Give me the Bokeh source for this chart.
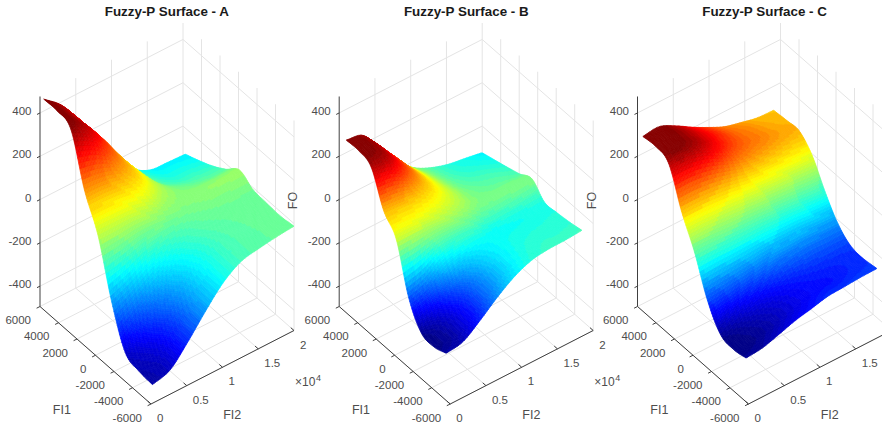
from math import pi
import numpy as np
from bokeh.embed import file_html
from bokeh.models import ColumnDataSource, Range1d
from bokeh.plotting import figure
from bokeh.resources import INLINE
from bokeh.core.properties import value

TITLES = ["Fuzzy-P Surface - A", "Fuzzy-P Surface - B", "Fuzzy-P Surface - C"]
FI1_TICKS = [6000, 4000, 2000, 0, -2000, -4000, -6000]
FI2_TICKS = [0, 5000, 10000, 15000, 20000]
FI2_LABELS = ["0", "0.5", "1", "1.5", "2"]
FO_TICKS = [400, 200, 0, -200, -400]

FI1_A = np.linspace(5760, -6000, 9)
FI2_A = np.linspace(200, 20000, 9)
FI1_B = np.linspace(5400, -5400, 9)
FI2_B = np.linspace(200, 19200, 9)
FI1_C = np.linspace(5580, -5580, 9)
FI2_C = np.linspace(200, 18500, 9)

# rows: FI2 ascending; columns: FI1 descending
FO_A = [
    [470, 470, 440, 215, 60, -190, -370, -400, -408],
    [400, 400, 385, 210, 60, -150, -300, -370, -382],
    [290, 295, 290, 190, 60, -100, -230, -290, -295],
    [160, 170, 175, 150, 45, -70, -155, -190, -195],
    [45, 55, 70, 65, 20, -45, -90, -105, -105],
    [-60, -40, -20, 10, 10, -20, -45, -52, -50],
    [-110, -85, -55, -15, 18, -10, -25, -30, -32],
    [-117, -90, -60, -25, 22, -8, -15, -20, -20],
    [-121, -95, -65, -25, 26, -10, -17, -21, -12],
]
FO_B = [
    [294, 296, 270, 120, 40, -180, -292, -305, -286],
    [275, 280, 255, 115, 40, -150, -255, -280, -272],
    [175, 195, 185, 105, 35, -90, -195, -225, -215],
    [75, 100, 105, 80, 25, -70, -140, -160, -150],
    [5, 25, 35, 35, 10, -65, -95, -105, -95],
    [-35, -25, -15, -5, -10, -72, -72, -68, -60],
    [-60, -50, -35, -20, -12, -68, -65, -55, -48],
    [-73, -60, -42, -25, -8, -66, -62, -55, -46],
    [-87, -70, -52, -33, -5, -62, -60, -53, -40],
]
FO_C = [
    [304, 310, 284, 115, -20, -190, -295, -312, -301],
    [310, 310, 285, 115, -20, -180, -280, -305, -293],
    [275, 285, 265, 110, -25, -170, -260, -290, -270],
    [230, 245, 225, 100, -28, -160, -245, -268, -245],
    [190, 205, 185, 85, -30, -150, -225, -245, -228],
    [155, 170, 160, 75, -35, -148, -212, -230, -210],
    [135, 150, 145, 70, -40, -145, -205, -225, -205],
    [118, 130, 130, 65, -50, -148, -203, -215, -200],
    [114, 120, 122, 60, -55, -150, -200, -207, -198],
]
COLOR_LIMITS = [(-440, 450), (-305, 296), (-312, 310)]
PANELS = [(FI1_A, FI2_A, FO_A), (FI1_B, FI2_B, FO_B), (FI1_C, FI2_C, FO_C)]

# view of the box on the page (orthographic projection)
OFFSETS = [0.0, 299.2, 597.5]
L = np.array([39.5, 306.0])
F = np.array([150.5, 403.5])
R = np.array([293.5, 330.0])
Z_LOW, Z_HIGH, Z_SCALE = -494.0, 476.0, 0.2165
INK = "#4d4d4d"
GRID = "#e4e4e4"
SANS = value("Liberation Sans")


def project(fi1, fi2, fo, off):
    u = (6000 - np.asarray(fi1, float)) / 12000
    v = np.asarray(fi2, float) / 20000
    x = L[0] + u * (F[0] - L[0]) + v * (R[0] - F[0]) + off
    y = L[1] + u * (F[1] - L[1]) + v * (R[1] - F[1]) - (np.asarray(fo, float) - Z_LOW) * Z_SCALE
    return x, y


def jet(t):
    level = np.floor(np.clip(t, 0, 0.9999) * 64) + 0.5
    t = level / 64
    r = np.clip(np.minimum(4 * t - 1.5, 4.5 - 4 * t), 0, 1)
    g = np.clip(np.minimum(4 * t - 0.5, 3.5 - 4 * t), 0, 1)
    b = np.clip(np.minimum(4 * t + 0.5, 2.5 - 4 * t), 0, 1)
    return "#%02x%02x%02x" % (int(r * 255), int(g * 255), int(b * 255))


def smooth_rows(m, k):
    """Catmull-Rom drawing refinement along axis 0 (the shading of the surface)."""
    n = m.shape[0]
    pad = np.vstack([2 * m[0] - m[1], m, 2 * m[-1] - m[-2]])
    out = []
    for i in range(n - 1):
        for a in range(k):
            t = a / k
            p0, p1, p2, p3 = pad[i], pad[i + 1], pad[i + 2], pad[i + 3]
            out.append(0.5 * (2 * p1 + (p2 - p0) * t + (2 * p0 - 5 * p1 + 4 * p2 - p3) * t ** 2
                              + (3 * p1 - p0 - 3 * p2 + p3) * t ** 3))
    out.append(m[-1])
    return np.array(out)


def refine(m, k=12):
    return smooth_rows(smooth_rows(np.asarray(m, float), k).T, k).T


p = figure(width=882, height=427, x_range=Range1d(0, 882), y_range=Range1d(427, 0),
           output_backend="svg", toolbar_location=None, min_border=0,
           x_axis_location=None, y_axis_location=None)
p.outline_line_color = None
p.xgrid.visible = False
p.ygrid.visible = False
p.background_fill_color = "white"
p.border_fill_color = "white"

for title, off, (fi1, fi2, fo), (lo, hi) in zip(TITLES, OFFSETS, PANELS, COLOR_LIMITS):
    gx, gy, ax, ay = [], [], [], []

    def seg(store, a, b):
        store[0].append([a[0], b[0]])
        store[1].append([a[1], b[1]])

    def pt(i1, i2, z):
        x, y = project(i1, i2, z, off)
        return float(x), float(y)

    grid = (gx, gy)
    axes = (ax, ay)
    # walls and floor
    for t in FI2_TICKS:
        if t > 0:
            seg(grid, pt(6000, t, Z_LOW), pt(6000, t, Z_HIGH))
        seg(grid, pt(6000, t, Z_LOW), pt(-6000, t, Z_LOW))
    for t in FI1_TICKS:
        if t < 6000:
            seg(grid, pt(t, 20000, Z_LOW), pt(t, 20000, Z_HIGH))
        seg(grid, pt(t, 0, Z_LOW), pt(t, 20000, Z_LOW))
    for z in FO_TICKS:
        seg(grid, pt(6000, 0, z), pt(6000, 20000, z))
        seg(grid, pt(6000, 20000, z), pt(-6000, 20000, z))
    p.multi_line(gx, gy, line_color=GRID, line_width=1)

    # surface, painted from the far corner to the near one
    X1 = refine(np.tile(fi1, (9, 1)))
    X2 = refine(np.tile(fi2, (9, 1)).T)
    Z = refine(np.array(fo, float))
    sx, sy = project(X1, X2, Z, off)
    xs, ys, cs = [], [], []
    nr, nc = Z.shape
    for c in range(nc - 1):
        for r in range(nr - 2, -1, -1):
            xs.append([sx[r, c], sx[r, c + 1], sx[r + 1, c + 1], sx[r + 1, c]])
            ys.append([sy[r, c], sy[r, c + 1], sy[r + 1, c + 1], sy[r + 1, c]])
            zm = (Z[r, c] + Z[r, c + 1] + Z[r + 1, c + 1] + Z[r + 1, c]) / 4
            cs.append(jet((zm - lo) / (hi - lo)))
    p.patches("xs", "ys", source=ColumnDataSource(dict(xs=xs, ys=ys, cs=cs)),
              fill_color="cs", line_color="cs", line_width=0.7)

    # axis lines and ticks
    seg(axes, pt(6000, 0, Z_LOW), pt(6000, 0, Z_HIGH))
    seg(axes, pt(6000, 0, Z_LOW), pt(-6000, 0, Z_LOW))
    seg(axes, pt(-6000, 0, Z_LOW), pt(-6000, 20000, Z_LOW))
    tx, ty, lab = [], [], []
    for z in FO_TICKS:
        a = pt(6000, 0, z)
        seg(axes, a, (a[0] - 3, a[1] + 1.5))
        tx.append(a[0] - 8.5)
        ty.append(a[1] - 2)
        lab.append(str(z))
    for t in FI1_TICKS:
        a = pt(t, 0, Z_LOW)
        seg(axes, a, (a[0] - 3.4, a[1] + 1.7))
        tx.append(a[0] - 9)
        ty.append(a[1] + 13.5)
        lab.append(str(t))
    p.multi_line(ax, ay, line_color="#404040", line_width=1)
    for t in FI2_TICKS:
        a = pt(-6000, t, Z_LOW)
        p.segment([a[0]], [a[1]], [a[0] - 3.2], [a[1] - 2.8], line_color="#404040", line_width=1)
    p.text(tx, ty, lab, text_font=SANS, text_font_size="11.5px", text_color=INK,
           text_align="right", text_baseline="middle")
    lx, ly, ll = [], [], []
    for t, s in zip(FI2_TICKS, FI2_LABELS):
        a = pt(-6000, t, Z_LOW)
        if a[0] + 6 < 874:
            lx.append(a[0] + 6)
            ly.append(a[1] + 14)
            ll.append(s)
    p.text(lx, ly, ll, text_font=SANS, text_font_size="11.5px", text_color=INK,
           text_align="left", text_baseline="middle")
    p.text([166.7 + off], [11], [title], text_font=SANS, text_font_size="13.4px",
           text_font_style="bold", text_color="#1a1a1a", text_align="center", text_baseline="middle")
    p.text([61.3 + off, 231.7 + off], [409, 414], ["FI1", "FI2"], text_font=SANS, text_font_size="12.5px",
           text_color=INK, text_align="center", text_baseline="middle")
    if 292.7 + off < 874:
        p.text([292.7 + off], [200], ["FO"], text_font=SANS, text_font_size="12.5px", text_color=INK,
               text_align="center", text_baseline="middle", angle=pi / 2)
        p.text([294.5 + off], [381], ["×10"], text_font=SANS, text_font_size="12px", text_color=INK,
               text_align="left", text_baseline="middle")
        p.text([315.5 + off], [377], ["4"], text_font=SANS, text_font_size="9px", text_color=INK,
               text_align="left", text_baseline="middle")

open("out.html", "w").write(file_html(p, INLINE))
